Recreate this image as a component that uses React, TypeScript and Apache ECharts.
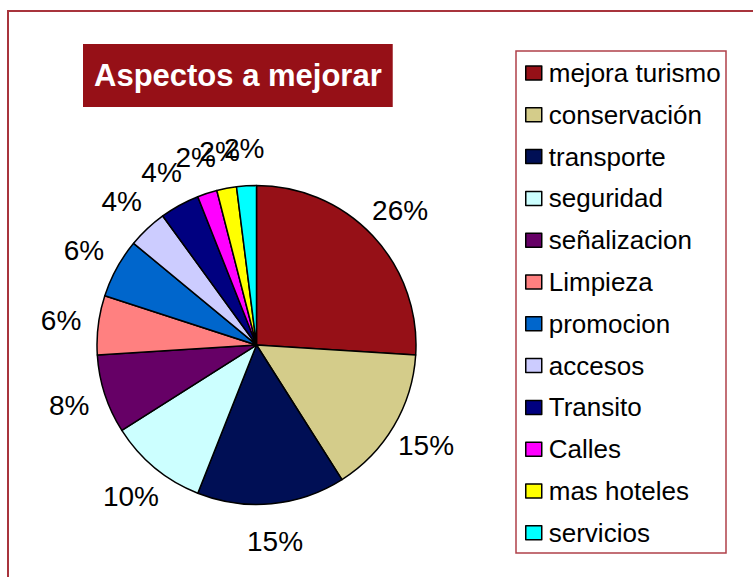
import React, { useEffect, useRef } from "react";
import * as echarts from "echarts";

const categories = [
  "mejora turismo",
  "conservación",
  "transporte",
  "seguridad",
  "señalizacion",
  "Limpieza",
  "promocion",
  "accesos",
  "Transito",
  "Calles",
  "mas hoteles",
  "servicios",
];
const values = [26, 15, 15, 10, 8, 6, 6, 4, 4, 2, 2, 2];
const colors = [
  "#961017",
  "#d4cc8a",
  "#000f55",
  "#ccffff",
  "#660066",
  "#ff8080",
  "#0066cc",
  "#ccccff",
  "#000080",
  "#ff00ff",
  "#ffff00",
  "#00ffff",
];
const titleText = "Aspectos a mejorar";

const FONT = "'Liberation Sans', Arial, sans-serif";

export default function App() {
  const ref = useRef<HTMLDivElement>(null);

  useEffect(() => {
    if (!ref.current) return;
    const chart = echarts.init(ref.current, undefined, { renderer: "svg" });
    const pieData = categories.map((name, i) => ({
      name,
      value: values[i],
      itemStyle: { color: colors[i] },
    }));
    const labelData = categories.map((name, i) => ({
      name,
      value: values[i],
    }));
    chart.setOption({
      animation: false,
      backgroundColor: "#ffffff",
      title: {
        text: titleText,
        left: 83,
        top: 44,
        backgroundColor: "#961017",
        padding: [16, 11, 16, 11],
        textStyle: {
          color: "#ffffff",
          fontSize: 31,
          fontWeight: "bold",
          lineHeight: 31,
          fontFamily: FONT,
        },
      },
      legend: {
        orient: "vertical",
        left: 525,
        top: 60,
        padding: 0,
        itemWidth: 16,
        itemHeight: 14,
        itemGap: 15.8,
        icon: "rect",
        selectedMode: false,
        data: categories,
        itemStyle: { borderColor: "#000000", borderWidth: 1.5 },
        textStyle: {
          fontSize: 26,
          lineHeight: 26,
          color: "#000000",
          fontFamily: FONT,
          padding: [0, 0, 0, 2],
        },
      },
      graphic: [
        {
          type: "rect",
          shape: { x: 8, y: 11, width: 800, height: 620 },
          style: { fill: "none", stroke: "#a8343c", lineWidth: 2 },
          silent: true,
        },
        {
          type: "rect",
          shape: { x: 516, y: 51, width: 210, height: 502 },
          style: { fill: "none", stroke: "#b0404a", lineWidth: 1.5 },
          silent: true,
        },
      ],
      series: [
        {
          type: "pie",
          center: [256.5, 345],
          radius: 159.5,
          startAngle: 90,
          clockwise: true,
          data: pieData,
          label: { show: false },
          labelLine: { show: false },
          itemStyle: { borderColor: "#000000", borderWidth: 1.5 },
          emphasis: { disabled: true },
          silent: true,
        },
        {
          type: "pie",
          center: [256.5, 345],
          radius: [182, 206],
          startAngle: 90,
          clockwise: true,
          data: labelData,
          avoidLabelOverlap: false,
          labelLayout: { hideOverlap: false },
          itemStyle: { color: "rgba(0,0,0,0)", borderWidth: 0 },
          label: {
            show: true,
            position: "inside",
            formatter: (p: any) => Math.round(p.percent) + "%",
            color: "#000000",
            fontSize: 28,
            fontFamily: FONT,
          },
          labelLine: { show: false },
          emphasis: { disabled: true },
          silent: true,
          legendHoverLink: false,
        },
      ],
    });
    return () => chart.dispose();
  }, []);

  return (
    <div
      ref={ref}
      style={{ position: "fixed", left: 0, top: 0, width: 753, height: 577, background: "#fff" }}
    />
  );
}
